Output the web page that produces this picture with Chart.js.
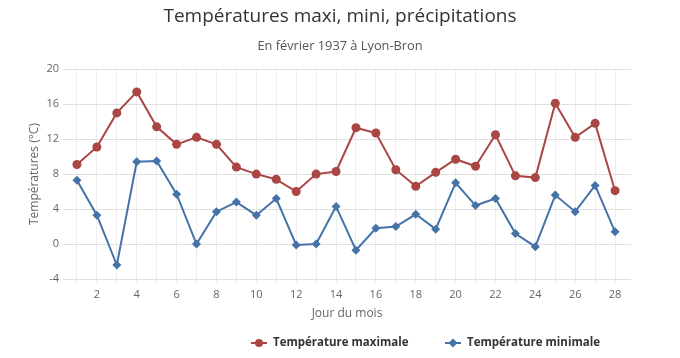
<!DOCTYPE html>
<html>
<head>
<meta charset="utf-8">
<script src="https://cdn.jsdelivr.net/npm/chart.js@4"></script>
<style>
  html, body { margin: 0; padding: 0; background: #fff; }
  #wrap { width: 680px; height: 358px; }
</style>
</head>
<body>
<div id="wrap"><canvas id="c" width="680" height="358"></canvas></div>
<script>
const days = [1,2,3,4,5,6,7,8,9,10,11,12,13,14,15,16,17,18,19,20,21,22,23,24,25,26,27,28];
const tempMax = [9.1, 11.1, 15.0, 17.4, 13.4, 11.4, 12.2, 11.4, 8.8, 8.0, 7.4, 6.0, 8.0, 8.3, 13.3, 12.7, 8.5, 6.6, 8.2, 9.7, 8.9, 12.5, 7.8, 7.6, 16.1, 12.2, 13.8, 6.1];
const tempMin = [7.3, 3.3, -2.4, 9.4, 9.5, 5.7, 0.0, 3.7, 4.8, 3.3, 5.2, -0.1, 0.0, 4.3, -0.7, 1.8, 2.0, 3.4, 1.7, 7.0, 4.4, 5.2, 1.2, -0.3, 5.6, 3.7, 6.7, 1.4];
const xLabelDays = [2,4,6,8,10,12,14,16,18,20,22,24,26,28];
const yTicks = [-4, 0, 4, 8, 12, 16, 20];
const seriesNames = ['Température maximale', 'Température minimale'];
const seriesColors = ['#AA4643', '#4572A7'];

const FONT = '"Open Sans", Lato, sans-serif';

const customLegend = {
  id: 'customLegend',
  afterDraw(chart) {
    const ctx = chart.ctx;
    const y = 343;
    const items = [
      { x: 251, color: seriesColors[0], style: 'circle', text: seriesNames[0] },
      { x: 445, color: seriesColors[1], style: 'diamond', text: seriesNames[1] }
    ];
    ctx.save();
    items.forEach(it => {
      ctx.strokeStyle = it.color;
      ctx.lineWidth = 2;
      ctx.beginPath();
      ctx.moveTo(it.x, y);
      ctx.lineTo(it.x + 16, y);
      ctx.stroke();
      ctx.fillStyle = it.color;
      const cx = it.x + 8;
      ctx.beginPath();
      if (it.style === 'circle') {
        ctx.arc(cx, y, 4, 0, Math.PI * 2);
      } else {
        ctx.moveTo(cx, y - 4.5); ctx.lineTo(cx + 4.5, y); ctx.lineTo(cx, y + 4.5); ctx.lineTo(cx - 4.5, y); ctx.closePath();
      }
      ctx.fill();
      ctx.fillStyle = '#333';
      ctx.font = 'bold 11.5px ' + FONT;
      ctx.textBaseline = 'middle';
      ctx.textAlign = 'left';
      ctx.fillText(it.text, it.x + 22, y);
    });
    ctx.restore();
  }
};

new Chart(document.getElementById('c'), {
  type: 'line',
  data: {
    datasets: [
      {
        label: seriesNames[0],
        data: days.map((d, i) => ({ x: d, y: tempMax[i] })),
        borderColor: seriesColors[0],
        backgroundColor: seriesColors[0],
        borderWidth: 2,
        pointStyle: 'circle',
        pointRadius: 4.5,
        pointBorderWidth: 0,
        tension: 0
      },
      {
        label: seriesNames[1],
        data: days.map((d, i) => ({ x: d, y: tempMin[i] })),
        borderColor: seriesColors[1],
        backgroundColor: seriesColors[1],
        borderWidth: 2,
        pointStyle: 'rectRot',
        pointRadius: 4.5,
        pointBorderWidth: 0,
        tension: 0
      }
    ]
  },
  options: {
    responsive: false,
    animation: false,
    layout: { padding: { left: 0, right: 0, top: 0, bottom: 30 } },
    plugins: {
      legend: { display: false },
      tooltip: { enabled: false },
      title: {
        display: true,
        text: 'Températures maxi, mini, précipitations',
        color: '#333',
        font: { family: FONT, size: 19, weight: 'normal' },
        padding: { top: 5, bottom: 11 }
      },
      subtitle: {
        display: true,
        text: 'En février 1937 à Lyon-Bron',
        color: '#555',
        font: { family: FONT, size: 12.8, weight: 'normal' },
        padding: { top: 0, bottom: 15 }
      }
    },
    scales: {
      x: {
        type: 'linear',
        min: 0.3,
        max: 28.8,
        afterBuildTicks(scale) { scale.ticks = days.map(v => ({ value: v })); },
        afterFit(scale) { scale.height = 49; },
        border: { display: false },
        grid: { color: '#eeeeee', lineWidth: 1, drawTicks: true, tickLength: 4 },
        ticks: {
          autoSkip: false,
          maxRotation: 0,
          padding: 5,
          color: '#666',
          font: { family: FONT, size: 11 },
          callback: (v) => xLabelDays.includes(v) ? String(v) : ''
        },
        title: {
          display: true,
          text: 'Jour du mois',
          color: '#666',
          font: { family: FONT, size: 12 },
          padding: { top: 0, bottom: 7 }
        }
      },
      y: {
        min: -4,
        max: 20,
        afterBuildTicks(scale) { scale.ticks = yTicks.map(v => ({ value: v })); },
        afterFit(scale) { scale.width = 63; },
        border: { display: false },
        grid: { color: '#e0e0e0', lineWidth: 1, drawTicks: false },
        ticks: {
          padding: 4,
          color: '#666',
          font: { family: FONT, size: 11 }
        },
        title: {
          display: true,
          text: 'Températures (°C)',
          color: '#666',
          font: { family: FONT, size: 12 },
          padding: { top: 27, bottom: 0 }
        }
      },
      yRight: {
        position: 'right',
        min: -4,
        max: 20,
        afterFit(scale) { scale.width = 49; },
        border: { display: false },
        grid: { display: false, drawTicks: false },
        ticks: { display: false }
      }
    }
  },
  plugins: [customLegend]
});
</script>
</body>
</html>
